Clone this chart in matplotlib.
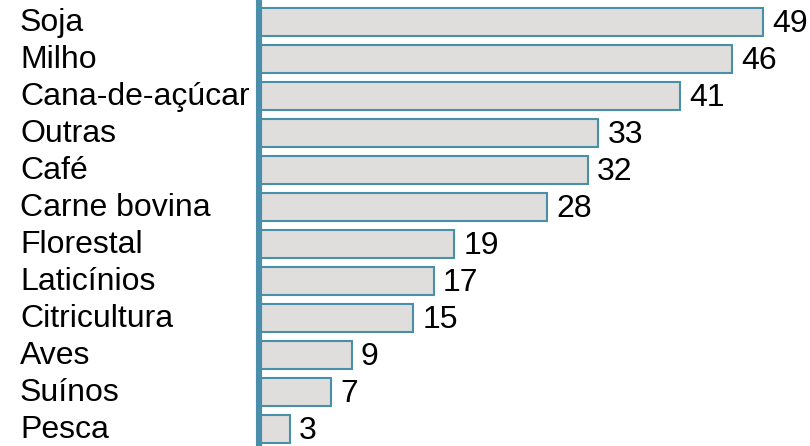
import matplotlib
matplotlib.use("Agg")
import matplotlib.pyplot as plt
from matplotlib.transforms import blended_transform_factory

plt.rcParams["font.family"] = ["Liberation Sans", "DejaVu Sans"]

categories = ["Soja", "Milho", "Cana-de-açúcar", "Outras", "Café", "Carne bovina",
              "Florestal", "Laticínios", "Citricultura", "Aves", "Suínos", "Pesca"]
values = [49, 46, 41, 33, 32, 28, 19, 17, 15, 9, 7, 3]

W, H = 810, 446
BLUE = "#4A8FAA"
FILL = "#DFDEDD"

fig = plt.figure(figsize=(W / 100, H / 100), dpi=100)
ax = fig.add_axes([259 / W, 0, (W - 259) / W, 443 / H])

ypos = list(range(len(categories)))
ax.barh(ypos, values, height=0.75, color=FILL, edgecolor=BLUE, linewidth=1.5, zorder=2)

ax.set_xlim(0, (W - 259) / 10.28)
ax.set_ylim(11.46, -0.514)

for s in ["top", "right", "bottom"]:
    ax.spines[s].set_visible(False)
ax.spines["left"].set_color(BLUE)
ax.spines["left"].set_linewidth(4.4)
ax.spines["left"].set_zorder(3)
ax.set_xticks([])
ax.set_yticks([])

# text baseline sits a bit below the bar centre
tr = blended_transform_factory(fig.transFigure, ax.transData)
for y, (cat, v) in enumerate(zip(categories, values)):
    ax.text(20 / W, y + 0.25, cat, transform=tr, ha="left", va="baseline", fontsize=23, color="black")
    ax.text(v + 0.9, y + 0.27, str(v), ha="left", va="baseline", fontsize=23, color="black")

fig.savefig("out.png", dpi=100)
